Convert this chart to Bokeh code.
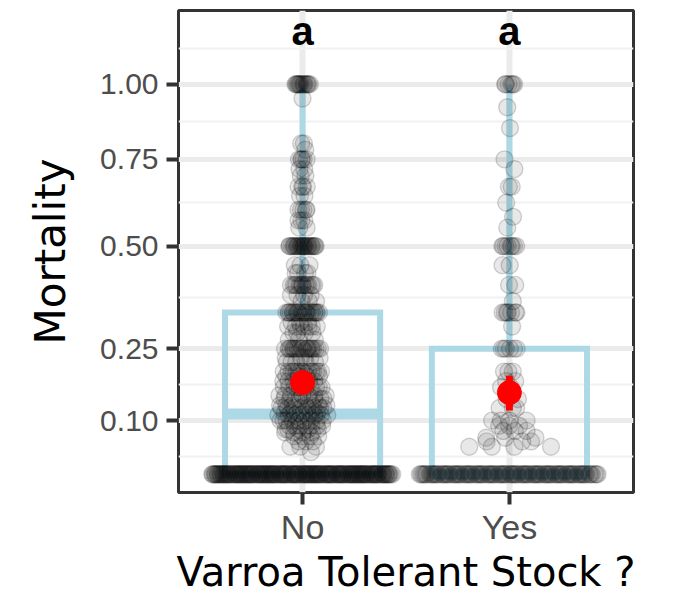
import numpy as np
from bokeh.plotting import figure
from bokeh.models import FixedTicker, CustomJSTickFormatter, ColumnDataSource, Range1d
from bokeh.core.properties import value
from bokeh.embed import file_html
from bokeh.resources import INLINE

# ---------------- data ----------------
categories = ["No", "Yes"]

no_values = [1.0, 0.95, 0.8, 0.78, 0.75, 0.72, 0.7, 0.667, 0.64, 0.6, 0.57, 0.55, 0.5,
             0.45, 0.43, 0.4, 0.375, 0.36, 0.333, 0.31, 0.3, 0.286, 0.27, 0.25, 0.23,
             0.22, 0.2, 0.19, 0.18, 0.167, 0.15, 0.143, 0.13, 0.125, 0.115, 0.111, 0.1,
             0.09, 0.083, 0.077, 0.07, 0.06, 0.05, 0.04, 0.0]
no_counts = [14, 1, 2, 1, 5, 2, 2, 4, 2, 5, 3, 2, 25,
             3, 4, 14, 4, 3, 22, 3, 7, 4, 3, 20, 5,
             5, 14, 4, 6, 10, 8, 8, 7, 8, 6, 8, 9,
             7, 5, 4, 4, 3, 3, 1, 180]

yes_values = [1.0, 0.92, 0.85, 0.75, 0.72, 0.667, 0.62, 0.58, 0.55, 0.5, 0.45, 0.4,
              0.36, 0.333, 0.3, 0.25, 0.2, 0.18, 0.167, 0.143, 0.125, 0.1, 0.09, 0.08,
              0.067, 0.06, 0.05, 0.0]
yes_counts = [6, 1, 1, 1, 1, 2, 1, 1, 1, 8, 2, 2,
              1, 7, 1, 6, 3, 2, 2, 2, 3, 4, 3, 3,
              3, 3, 4, 110]

y_ticks = [0.10, 0.25, 0.50, 0.75, 1.00]
y_limits = [-0.032, 1.28]

box_q1 = [0.0, 0.0]
box_median = [0.113, 0.0]
box_q3 = [0.333, 0.25]
box_upper = [1.0, 1.0]

mean_mortality = [0.177, 0.156]
mean_lower = [0.165, 0.120]
mean_upper = [0.190, 0.191]

letters = ["a", "a"]
letter_y = [1.2, 1.2]


# ---------------- helpers ----------------
def tr(v):
    """log1p (base 10) scale used on the y axis"""
    return np.log10(1.0 + np.asarray(v, dtype=float))


def vdc(n, base=2):
    out = np.zeros(n)
    for i in range(n):
        k, f, r = i + 1, 1.0, 0.0
        while k > 0:
            f /= base
            r += f * (k % base)
            k //= base
        out[i] = r
    return out


def quasi_offsets(t, width=0.44, bw=0.011, floor=0.0):
    order = np.argsort(t, kind="stable")
    ts = t[order]
    d = np.exp(-0.5 * ((ts[:, None] - ts[None, :]) / bw) ** 2).sum(axis=1)
    d = d / d.max()
    d = np.maximum(d, floor)
    off = (vdc(len(ts)) * 2 - 1) * width * d
    res = np.empty_like(off)
    res[order] = off
    return res


group_bw = [0.0095, 0.015]
xs, ys = [], []
for i, (vals, cnts) in enumerate([(no_values, no_counts), (yes_values, yes_counts)]):
    v = np.repeat(np.asarray(vals, float), cnts)
    t = tr(v)
    xs.append(i + 1 + quasi_offsets(t, bw=group_bw[i], floor=0.03 if i == 0 else 0.06))
    ys.append(t)
pts = ColumnDataSource(dict(x=np.concatenate(xs), y=np.concatenate(ys)))

xpos = np.arange(1, len(categories) + 1)

# ---------------- figure ----------------
p = figure(width=675, height=597, output_backend="svg", toolbar_location=None,
           x_range=Range1d(0.4, 2.6), y_range=Range1d(*tr(y_limits)),
           min_border_left=178, min_border_right=42, min_border_top=10,
           min_border_bottom=105)
p.background_fill_color = "white"
p.border_fill_color = "white"
p.outline_line_color = "#333333"
p.outline_line_width = 3

# y ticks / grid
major_t = tr(y_ticks)
ext = np.concatenate([[major_t[0] - (major_t[1] - major_t[0])], major_t,
                      [major_t[-1] + (major_t[1] - major_t[0])]])
minor_t = (ext[:-1] + ext[1:]) / 2
yticker = FixedTicker(ticks=list(major_t), minor_ticks=list(minor_t))
p.yaxis.ticker = yticker
p.yaxis.formatter = CustomJSTickFormatter(code="return (Math.pow(10, tick) - 1).toFixed(2);")
p.ygrid.ticker = yticker
p.ygrid.grid_line_color = "#ebebeb"
p.ygrid.grid_line_width = 5
p.ygrid.minor_grid_line_color = "#f1f1f1"
p.ygrid.minor_grid_line_width = 2

xticker = FixedTicker(ticks=list(xpos))
p.xaxis.ticker = xticker
p.xaxis.major_label_overrides = {int(k): c for k, c in zip(xpos, categories)}
p.xgrid.ticker = xticker
p.xgrid.grid_line_color = "#ebebeb"
p.xgrid.grid_line_width = 6

for ax in (p.xaxis[0], p.yaxis[0]):
    ax.axis_line_color = None
    ax.major_tick_line_color = "#333333"
    ax.major_tick_line_width = 4
    ax.major_tick_out = 12
    ax.major_tick_in = 0
    ax.minor_tick_line_color = None
    ax.major_label_text_color = "#4d4d4d"
    ax.major_label_text_font = "Liberation Sans"
    ax.axis_label_text_font = "DejaVu Sans"
    ax.axis_label_text_font_style = "normal"
    ax.axis_label_text_color = "black"

p.yaxis.axis_label_text_font_size = "42px"
p.xaxis.axis_label_text_font_size = "40px"
p.yaxis.major_label_text_font_size = "30px"
p.xaxis.major_label_text_font_size = "34px"
p.yaxis.major_label_standoff = 8
p.xaxis.major_label_standoff = 3
p.yaxis.axis_label = "Mortality"
p.xaxis.axis_label = "Varroa Tolerant Stock ?"
p.yaxis.axis_label_standoff = 22
p.xaxis.axis_label_standoff = 0

# ---------------- boxplot ----------------
box_col = "#add8e6"
half = 0.375
p.quad(left=xpos - half, right=xpos + half, bottom=tr(box_q1), top=tr(box_q3),
       fill_color=None, line_color=box_col, line_width=6, line_join="miter")
p.segment(x0=xpos - half, x1=xpos + half, y0=tr(box_median), y1=tr(box_median),
          line_color=box_col, line_width=11)
p.segment(x0=xpos, x1=xpos, y0=tr(box_q3), y1=tr(box_upper),
          line_color=box_col, line_width=6)

# ---------------- points ----------------
p.scatter("x", "y", source=pts, size=17, marker="circle",
          fill_color="black", fill_alpha=0.09, line_color="black", line_alpha=0.17,
          line_width=1.4)

# ---------------- mean +/- se ----------------
p.segment(x0=xpos, x1=xpos, y0=tr(mean_lower), y1=tr(mean_upper),
          line_color="#ff0000", line_width=7)
p.scatter(x=xpos, y=tr(mean_mortality), size=24, marker="circle",
          fill_color="#ff0000", line_color="#ff0000")

# ---------------- letters ----------------
p.text(x=xpos, y=tr(letter_y), text=letters, text_font=value("Liberation Sans"),
       text_font_style="bold", text_font_size="40px", text_align="center",
       text_baseline="alphabetic", text_color="black")

open("out.html", "w").write(file_html(p, INLINE))
